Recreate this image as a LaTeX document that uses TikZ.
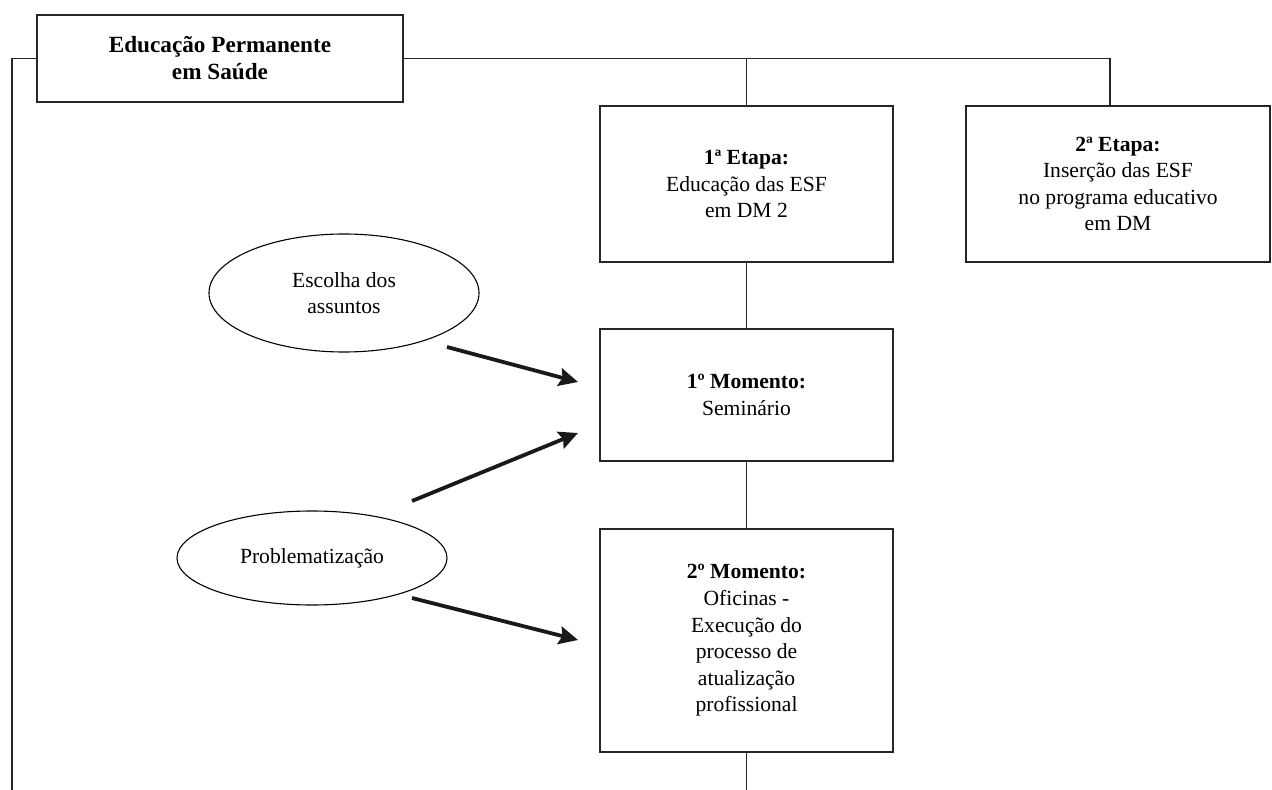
\documentclass[tikz,border=0pt]{standalone}
\usepackage{fontspec}
\setmainfont{Liberation Serif}
\usetikzlibrary{shapes.geometric,arrows.meta}
\begin{document}
\begin{tikzpicture}[x=0.5pt,y=-0.5pt,
  box/.style={draw=black!85,line width=0.9pt,inner sep=0pt,align=center,
    font=\fontsize{10.8pt}{13.3pt}\selectfont},
  oval/.style={draw=black,line width=0.55pt,ellipse,inner sep=0pt,align=center,
    font=\fontsize{10.8pt}{13.3pt}\selectfont},
  link/.style={draw=black!85,line width=0.9pt},
  arr/.style={draw=black!90,line width=1.9pt,-{Stealth[length=9.5pt,width=9pt,inset=1.5pt]}}]
\useasboundingbox (0,0) rectangle (1272,790);
% boxes
\node[box,minimum width=183pt,minimum height=43.5pt,
  font=\fontsize{11.6pt}{13.5pt}\selectfont] (top) at (220,58.5)
  {\textbf{Educação Permanente}\\\textbf{em Saúde}};
\node[box,minimum width=146.5pt,minimum height=78pt] (e1) at (746.5,184)
  {\textbf{1ª Etapa:}\\Educação das ESF\\em DM 2};
\node[box,minimum width=152pt,minimum height=78pt] (e2) at (1118,184)
  {\textbf{2ª Etapa:}\\Inserção das ESF\\no programa educativo\\em DM};
\node[box,minimum width=146.5pt,minimum height=66pt] (m1) at (746.5,395)
  {\textbf{1º Momento:}\\Seminário};
\node[box,minimum width=146.5pt,minimum height=111.5pt] (m2) at (746.5,640.5)
  {\textbf{2º Momento:}\\Oficinas -\\Execução do\\processo de\\atualização\\profissional};
% ovals
\node[oval,minimum width=135pt,minimum height=59pt] (o1) at (344,293)
  {Escolha dos\\assuntos};
\node[oval,minimum width=135pt,minimum height=47pt] (o2) at (312,558)
  {Problematização};
% coordinates
\coordinate (bl) at (12,790);
\coordinate (jr) at (1110,58.5);
\coordinate (bm) at (746.5,790);
\coordinate (a1s) at (447,347);
\coordinate (a1e) at (578,382);
\coordinate (a2s) at (412,501);
\coordinate (a2e) at (578,433);
\coordinate (a3s) at (412,598);
\coordinate (a3e) at (578,640);
% connectors
\draw[link] (top.west) -| (bl);
\draw[link] (top.east) -- (jr) -- (jr |- e2.north);
\draw[link] (e1.north) -- (e1.north |- top.east);
\draw[link] (e1.south) -- (m1.north);
\draw[link] (m1.south) -- (m2.north);
\draw[link] (m2.south) -- (bm);
% arrows
\draw[arr] (a1s) -- (a1e);
\draw[arr] (a2s) -- (a2e);
\draw[arr] (a3s) -- (a3e);
\end{tikzpicture}
\end{document}
